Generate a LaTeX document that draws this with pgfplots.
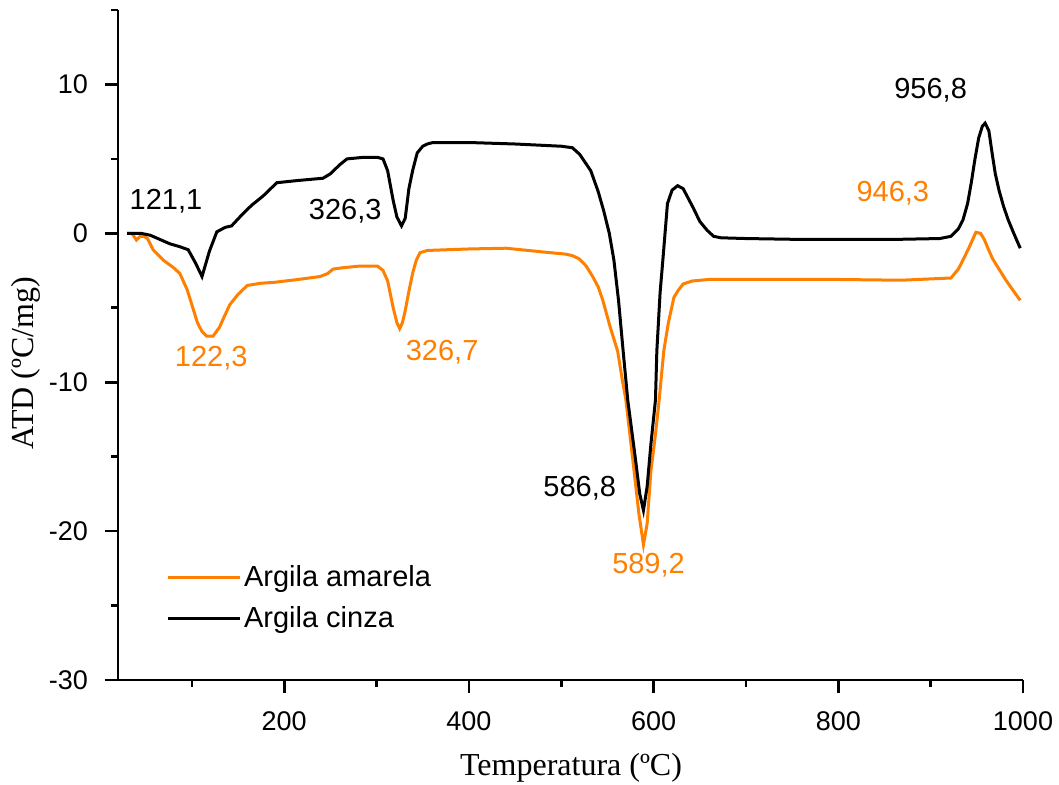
\documentclass[border=0pt]{standalone}
\usepackage{pgfplots}
\pgfplotsset{compat=1.18}
\usepackage{fontspec}
\setmainfont{Liberation Sans}
\newfontfamily\seriffont{Liberation Serif}
\definecolor{orng}{RGB}{255,127,0}

\pgfplotstableread{
x y
30 0
35 0
40 -0.45
44 -0.2
48 -0.2
52 -0.35
58 -1.1
69 -1.8
80 -2.3
87 -2.7
95 -3.8
101 -5.0
106 -6.0
111 -6.6
116 -6.9
123 -6.9
130 -6.3
135 -5.6
141 -4.8
150 -4.1
160 -3.5
175 -3.35
188 -3.3
215 -3.1
239 -2.9
247 -2.7
253 -2.4
265 -2.3
282 -2.2
301 -2.2
307 -2.5
312 -3.2
318 -5.0
322 -6.0
325 -6.4
328 -6.0
331 -5.2
335 -3.9
339 -2.7
343 -1.8
347 -1.3
355 -1.15
400 -1.05
440 -1.0
456 -1.1
480 -1.25
505 -1.4
512 -1.5
519 -1.7
527 -2.2
534 -2.9
540 -3.6
545 -4.5
553 -6.3
561 -7.9
566 -9.8
570 -11.2
578 -15.5
584 -18.8
589 -20.9
593 -19.5
597 -16.0
602 -13.5
606 -11.2
611 -7.9
616 -6.0
622 -4.3
627 -3.8
632 -3.4
642 -3.2
660 -3.1
700 -3.1
800 -3.1
868 -3.15
922 -3.0
930 -2.4
935 -1.8
942 -0.9
949 0.07
954 0.0
958 -0.4
962 -1.0
967 -1.7
974 -2.4
981 -3.1
990 -3.9
997 -4.5
}\amarela

\pgfplotstableread{
x y
30 0
45 0.0
55 -0.13
65 -0.4
76 -0.7
87 -0.9
96 -1.1
104 -2.0
111 -2.9
119 -1.2
127 0.1
136 0.4
143 0.5
155 1.3
165 1.9
177 2.5
192 3.4
215 3.55
242 3.7
250 4.0
260 4.6
268 5.0
285 5.1
301 5.1
307 5.0
312 4.2
318 2.2
322 1.1
327 0.5
331 1.0
335 3.0
339 4.2
344 5.4
350 5.85
355 6.0
361 6.1
400 6.1
450 6.0
500 5.85
512 5.75
520 5.3
532 4.2
540 2.8
546 1.5
552 0.0
557 -1.8
562 -4.5
567 -7.9
572 -11.2
580 -15.0
585 -17.5
589 -18.6
593 -17.0
597 -14.2
602 -11.2
603.5 -7.9
607 -4.0
610 -1.8
615 2.0
620 2.9
626 3.2
632 3.0
643 1.7
650 0.8
658 0.2
665 -0.2
673 -0.3
700 -0.35
750 -0.4
800 -0.4
868 -0.4
910 -0.35
922 -0.2
930 0.3
935 0.9
940 2.0
944 3.4
948 5.0
952 6.4
956 7.2
959 7.4
963 6.9
967 5.2
970 4.0
974 2.9
979 1.8
984 0.9
990 0.0
997 -1.0
}\cinza

\begin{document}
\begin{tikzpicture}
\useasboundingbox (-59pt,-52.5pt) rectangle (470.5pt,340pt);
\begin{axis}[
  at={(0pt,0pt)}, anchor=south west,
  scale only axis,
  width=452.5pt, height=335pt,
  xmin=20, xmax=1000, ymin=-30, ymax=15,
  axis x line=bottom, axis y line=left,
  axis line style={-, line width=1.3pt},
  every tick/.style={line width=1.3pt, black},
  tick align=outside,
  major tick length=6.5pt, minor tick length=3.5pt,
  xtick={200,400,600,800,1000},
  minor xtick={100,300,500,700,900},
  ytick={-30,-20,-10,0,10},
  minor ytick={-25,-15,-5,5,15},
  /pgf/number format/assume math mode=true,
  /pgf/number format/1000 sep={},
  ticklabel style={font=\fontsize{13.5}{16}\selectfont},
  xticklabel style={yshift=-6pt},
  yticklabel style={xshift=-5pt},
  xlabel={Temperatura (ºC)},
  ylabel={ATD (ºC/mg)},
  xlabel style={font=\seriffont\fontsize{16}{19}\selectfont, at={(axis description cs:0.5006,-0.131)}, anchor=center},
  ylabel style={font=\seriffont\fontsize{16}{19}\selectfont, at={(axis description cs:-0.1017,0.473)}, anchor=center},
  legend style={draw=none, fill=none, at={(axis description cs:0.046,0.182)}, anchor=north west,
    font=\fontsize{14.5}{17}\selectfont, row sep=5.5pt, nodes={inner sep=1.5pt}},
  legend cell align=left,
  legend image code/.code={\draw[#1] (0pt,0pt) -- (36pt,0pt);},
  clip=false,
]
\addplot[orng, line width=1.5pt] table[x=x,y=y] {\amarela};
\addlegendentry{Argila amarela}
\addplot[black, line width=1.5pt] table[x=x,y=y] {\cinza};
\addlegendentry{Argila cinza}

\begin{scope}[every node/.style={font=\fontsize{14.5}{17}\selectfont}]
\node[black] at (axis cs:72,2.15) {121,1};
\node[black] at (axis cs:266,1.5) {326,3};
\node[black] at (axis cs:900,9.6) {956,8};
\node[orng] at (axis cs:859,2.7) {946,3};
\node[black] at (axis cs:520,-17.1) {586,8};
\node[orng] at (axis cs:594.5,-22.3) {589,2};
\node[orng] at (axis cs:121,-8.4) {122,3};
\node[orng] at (axis cs:371,-8.0) {326,7};
\end{scope}
\end{axis}
\end{tikzpicture}
\end{document}
